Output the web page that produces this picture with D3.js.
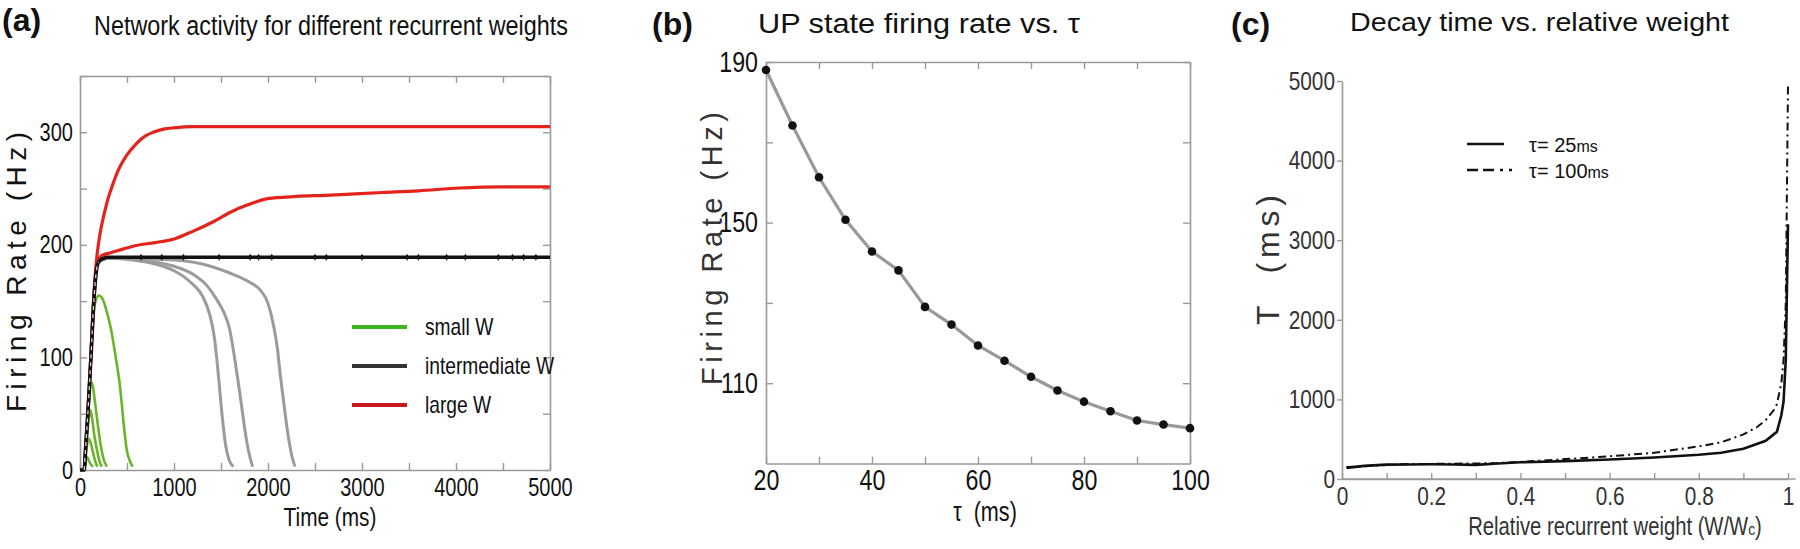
<!DOCTYPE html>
<html><head><meta charset="utf-8">
<script src="https://cdn.jsdelivr.net/npm/d3@7"></script>
<style>
body{margin:0;background:#fff;}
svg{display:block;}
text{font-family:'Liberation Sans',Arial,Helvetica,sans-serif;}
</style></head>
<body>
<svg id="c" width="1800" height="549"></svg>
<script>
// ---------- Panel (a) data ----------
const aXTicks = [0,1000,2000,3000,4000,5000];
const aYTicks = [0,100,200,300];
const blackT = [0,45,60,80,100,120,140,160,180,200,250,300,5000];
const blackV = [0,0,20,45,75,105,140,165,180,185,188,189,189];
const blackMarkT = [650,870,1100,1480,1810,1900,2040,2500,2620,3000,3480,3600,3900,4100,4450,4600,4720,4850];
const redHighT = [45,80,100,120,140,160,180,207,250,288,350,400,492,600,700,778,900,1000,1200,5000];
const redHighV = [0,45,75,110,145,172,190,207,225,238,254,265,279,290,297,300,303,304,305,305];
const redLowT = [45,100,140,170,200,245,330,450,574,800,993,1200,1428,1600,1800,1997,2300,2610,3220,3600,4037,4500,5000];
const redLowV = [0,75,140,175,188,191,193,196,199,202,205,212,221,229,236,241,243,244,246.5,248,250.5,251.5,251.5];
const gray1T = [200,300,600,800,1000,1100,1200,1307,1380,1429,1460,1490,1520,1551,1590,1632];
const gray1V = [185,188,186,183,177,172,165,154,138,118,95,68,42,21,8,3];
const gray2T = [200,300,700,1000,1200,1348,1450,1530,1592,1640,1680,1714,1750,1790,1836];
const gray2V = [185,188,186,181,174,164,152,140,125,102,80,60,38,18,3];
const gray3T = [200,300,900,1300,1592,1800,1916,2000,2060,2100,2130,2160,2190,2225,2255,2287];
const gray3V = [185,188,187,183,175,167,160,148,128,108,85,65,45,25,12,3];
const green1T = [45,100,130,160,200,240,280,330,380,426,460,497,530,560];
const green1V = [0,70,120,148,155,152,142,125,100,74,45,18,8,3];
const green2T = [45,80,105,120,135,160,190,220,250,285];
const green2V = [0,40,70,78,75,60,40,22,10,3];
const green3T = [45,80,100,110,125,150,180,210,232];
const green3V = [0,35,50,53,48,32,18,7,3];
const green4T = [45,75,90,110,140,165,185];
const green4V = [0,22,28,25,15,7,3];
const green5T = [45,60,72,90,115,140];
const green5V = [0,8,12,9,5,3];
const aLegend = ["small W","intermediate W","large W"];

// ---------- Panel (b) data ----------
const tauVals = [20,25,30,35,40,45,50,55,60,65,70,75,80,85,90,95,100];
const upRate  = [188,174.2,161.3,150.7,142.8,138.1,129,124.6,119.4,115.6,111.6,108.2,105.4,103,100.7,99.7,98.8];
const bXTicks = [20,40,60,80,100];
const bYTicks = [110,150,190];

// ---------- Panel (c) data ----------
const relW   = [0.01,0.05,0.1,0.15,0.2,0.25,0.3,0.35,0.4,0.5,0.6,0.7,0.8,0.85,0.9,0.93,0.95,0.97,0.975,0.985,0.99,0.995,1.0];
const decay25  = [140,165,180,183,185,182,178,195,210,225,245,270,305,330,380,440,480,570,590,800,970,1500,3200];
const decay100 = [150,160,175,190,190,192,195,200,215,250,285,330,410,460,560,650,740,880,940,1200,1500,2200,4950];
const cXTicks = [0,0.2,0.4,0.6,0.8,1];
const cYTicks = [0,1000,2000,3000,4000,5000];
const cLegend = ["25","100"];

const svg = d3.select("#c");
const FRAME = "#9a9a9a";
const narrowList = [];
function zip(t,v){return t.map((d,i)=>[d,v[i]]);}

// ================= Panel (a) =================
const xA = d3.scaleLinear().domain([0,5000]).range([80,550]);
const yA = d3.scaleLinear().domain([0,350]).range([470,76]);
const gA = svg.append("g");

function frameAxes(g, x, y, xt, yt, xLab, yLab, fs, padX, padY, col){
  const bx = g.append("g").attr("transform",`translate(0,${y.range()[0]})`)
    .call(d3.axisBottom(x).tickValues(xt).tickSize(-7).tickSizeOuter(0).tickPadding(padX)
      .tickFormat(d=>xLab.includes(d)?d3.format("")(d):""));
  const tx = g.append("g").attr("transform",`translate(0,${y.range()[1]})`)
    .call(d3.axisTop(x).tickValues(xt).tickSize(-7).tickSizeOuter(0).tickFormat(""));
  const ly = g.append("g").attr("transform",`translate(${x.range()[0]},0)`)
    .call(d3.axisLeft(y).tickValues(yt).tickSize(-7).tickSizeOuter(0).tickPadding(padY)
      .tickFormat(d=>yLab.includes(d)?d3.format("")(d):""));
  const ry = g.append("g").attr("transform",`translate(${x.range()[1]},0)`)
    .call(d3.axisRight(y).tickValues(yt).tickSize(-7).tickSizeOuter(0).tickFormat(""));
  [bx,tx,ly,ry].forEach(a=>{
    a.selectAll("path.domain").attr("stroke",FRAME).attr("stroke-width",1.6);
    a.selectAll(".tick line").attr("stroke",FRAME).attr("stroke-width",1.4);
    a.selectAll("text").attr("font-family","'Liberation Sans',Arial,sans-serif").attr("font-size",fs).attr("fill",col)
      .each(function(){ if(this.textContent) narrowList.push(this);});
  });
}
frameAxes(gA, xA, yA, d3.range(0,5001,500), d3.range(0,351,50), aXTicks, aYTicks, 25, 8, 7, "#111");

const lineA = d3.line().x(d=>xA(d[0])).y(d=>yA(d[1])).curve(d3.curveMonotoneX);
[[gray1T,gray1V],[gray2T,gray2V],[gray3T,gray3V]].forEach(([t,v])=>{
  gA.append("path").attr("d",lineA(zip(t,v))).attr("fill","none").attr("stroke","#9b9b9b").attr("stroke-width",3);
});
[[green1T,green1V],[green2T,green2V],[green3T,green3V],[green4T,green4V],[green5T,green5V]].forEach(([t,v])=>{
  gA.append("path").attr("d",lineA(zip(t,v))).attr("fill","none").attr("stroke","#6ab42a").attr("stroke-width",2.6);
});
[[redLowT,redLowV],[redHighT,redHighV]].forEach(([t,v])=>{
  gA.append("path").attr("d",lineA(zip(t,v))).attr("fill","none").attr("stroke","#e3231c").attr("stroke-width",3.2);
});
const blk = zip(blackT,blackV);
gA.append("path").attr("d",lineA(blk)).attr("fill","none").attr("stroke","#111").attr("stroke-width",3.6);
gA.append("path").attr("d",lineA(blk.filter(d=>d[0]>=45&&d[0]<=200)))
  .attr("fill","none").attr("stroke","#ddd").attr("stroke-width",1.2).attr("stroke-dasharray","4,4");
gA.selectAll("path.mk").data(blackMarkT).join("path").attr("class","mk")
  .attr("d",d3.symbol(d3.symbolDiamond,14)).attr("transform",d=>`translate(${xA(d)},${yA(189)})`).attr("fill","#111");

// legend (a)
const legCol = ["#3db51c","#333333","#c8161d"];
const legY = d3.scalePoint().domain(aLegend).range([327,405]);
aLegend.forEach((k,i)=>{
  gA.append("line").attr("x1",352).attr("x2",407).attr("y1",legY(k)).attr("y2",legY(k))
    .attr("stroke",legCol[i]).attr("stroke-width",4);
  const t = gA.append("text").attr("x",425).attr("y",legY(k)).attr("dy","0.35em")
    .attr("font-size",24).attr("fill","#111").text(k);
  narrowList.push(t.node());
});
narrowList.push(gA.append("text").attr("x",330).attr("y",526).attr("text-anchor","middle").attr("font-size",26).attr("fill","#111").text("Time (ms)").node());
gA.append("text").attr("transform","translate(26,272) rotate(-90)").attr("text-anchor","middle")
  .attr("font-size",28).attr("textLength",280).attr("lengthAdjust","spacing").attr("fill","#111").text("Firing Rate (Hz)");
gA.append("text").attr("x",94).attr("y",35).attr("font-size",27).attr("textLength",474).attr("lengthAdjust","spacingAndGlyphs").attr("fill","#111").text("Network activity for different recurrent weights");
gA.append("text").attr("x",2).attr("y",31).attr("font-size",32).attr("font-weight","bold").attr("fill","#111").text("(a)");

// ================= Panel (b) =================
const xB = d3.scaleLinear().domain([20,100]).range([766,1190]);
const yB = d3.scaleLinear().domain([90,190]).range([463.5,62]);
const gB = svg.append("g");
frameAxes(gB, xB, yB, d3.range(20,101,10), d3.range(110,191,20), bXTicks, bYTicks, 29, 6, 8, "#111");
gB.append("path").attr("d",d3.line().x((d,i)=>xB(tauVals[i])).y(d=>yB(d))(upRate))
  .attr("fill","none").attr("stroke","#999").attr("stroke-width",3.2);
gB.selectAll("circle").data(upRate).join("circle").attr("cx",(d,i)=>xB(tauVals[i])).attr("cy",d=>yB(d)).attr("r",4.3).attr("fill","#111");
narrowList.push(gB.append("text").attr("x",985).attr("y",521).attr("text-anchor","middle").attr("font-size",27).attr("fill","#111").attr("xml:space","preserve").text("τ  (ms)").node());
gB.append("text").attr("transform","translate(722,248.5) rotate(-90)").attr("text-anchor","middle")
  .attr("font-size",29).attr("textLength",273).attr("lengthAdjust","spacing").attr("fill","#333").text("Firing Rate (Hz)");
gB.append("text").attr("x",758).attr("y",33).attr("font-size",28).attr("textLength",322).attr("lengthAdjust","spacingAndGlyphs").attr("fill","#111").text("UP state firing rate vs. τ");
gB.append("text").attr("x",652).attr("y",35).attr("font-size",32).attr("font-weight","bold").attr("fill","#111").text("(b)");

// ================= Panel (c) =================
const xC = d3.scaleLinear().domain([0,1]).range([1342,1788]);
const yC = d3.scaleLinear().domain([0,5000]).range([479,81]);
const gC = svg.append("g");
const cb = gC.append("g").attr("transform",`translate(0,${yC(0)})`)
  .call(d3.axisBottom(xC).tickValues(d3.range(0,1.0001,0.1).map(d=>+d.toFixed(1))).tickSize(-6).tickSizeOuter(0).tickPadding(8)
    .tickFormat(d=>cXTicks.includes(d)?d3.format("")(d):""));
const cl = gC.append("g").attr("transform",`translate(${xC(0)},0)`)
  .call(d3.axisLeft(yC).tickValues(cYTicks).tickSize(5).tickSizeOuter(0).tickPadding(2).tickFormat(d3.format("")));
gC.append("line").attr("x1",xC(0)).attr("x2",xC(1.017)).attr("y1",yC(0)).attr("y2",yC(0)).attr("stroke",FRAME).attr("stroke-width",1.6);
[cb,cl].forEach(a=>{
  a.selectAll("path.domain").attr("stroke",FRAME).attr("stroke-width",1.6);
  a.selectAll(".tick line").attr("stroke",FRAME).attr("stroke-width",1.4);
  a.selectAll("text").attr("font-family","'Liberation Sans',Arial,sans-serif").attr("font-size",26).attr("fill","#333")
    .each(function(){ if(this.textContent) narrowList.push(this);});
});
const lineC = d3.line().x((d,i)=>xC(relW[i])).y(d=>yC(d));
gC.append("path").attr("d",lineC(decay100)).attr("fill","none").attr("stroke","#111").attr("stroke-width",2).attr("stroke-dasharray","8,4,2,4");
gC.append("path").attr("d",lineC(decay25)).attr("fill","none").attr("stroke","#111").attr("stroke-width",2.6);
// legend (c)
const cLegY = d3.scalePoint().domain(cLegend).range([144,170]);
gC.append("line").attr("x1",1467).attr("x2",1504).attr("y1",cLegY("25")).attr("y2",cLegY("25")).attr("stroke","#111").attr("stroke-width",2.6);
gC.append("line").attr("x1",1467).attr("x2",1512).attr("y1",cLegY("100")).attr("y2",cLegY("100")).attr("stroke","#111").attr("stroke-width",2.6).attr("stroke-dasharray","11,5,11,6,3,6");
cLegend.forEach(k=>{
  const t = gC.append("text").attr("x",1529).attr("y",cLegY(k)).attr("dy","0.38em").attr("font-size",20).attr("fill","#111");
  t.append("tspan").text("τ= "+k);
  t.append("tspan").attr("font-size",16).text("ms");
});
const xl = gC.append("g").attr("transform","translate(1615,535) scale(0.81,1)")
  .append("text").attr("x",0).attr("y",0).attr("text-anchor","middle").attr("font-size",25).attr("fill","#333");
xl.append("tspan").text("Relative recurrent weight (W/W");
xl.append("tspan").attr("font-size",17).text("c");
xl.append("tspan").text(")");
gC.append("text").attr("transform","translate(1279,260) rotate(-90)").attr("text-anchor","middle")
  .attr("font-size",32).attr("textLength",130).attr("lengthAdjust","spacing").attr("fill","#333").attr("xml:space","preserve").text("T  (ms)");
gC.append("text").attr("x",1350).attr("y",31).attr("font-family","'Open Sans','Noto Sans',sans-serif").attr("font-size",26).attr("textLength",379).attr("lengthAdjust","spacingAndGlyphs").attr("fill","#111").text("Decay time vs. relative weight");
gC.append("text").attr("x",1231).attr("y",35).attr("font-size",32).attr("font-weight","bold").attr("fill","#111").text("(c)");

// condensed look: squeeze narrow texts horizontally
narrowList.forEach(n=>{
  const L = n.getComputedTextLength();
  if(L>0){ n.setAttribute("textLength", (L*0.8).toFixed(1)); n.setAttribute("lengthAdjust","spacingAndGlyphs"); }
});
</script>
</body></html>
